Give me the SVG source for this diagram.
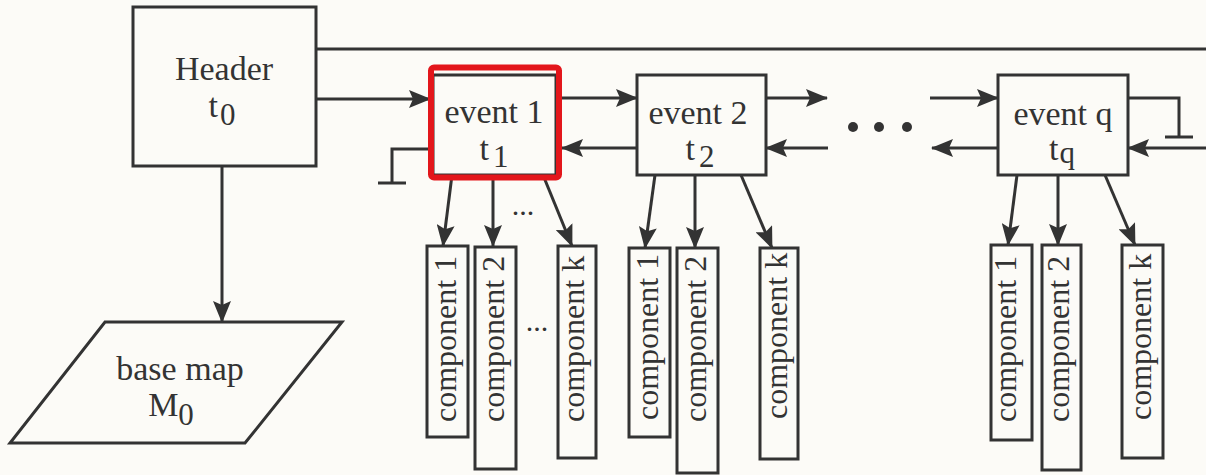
<svg xmlns="http://www.w3.org/2000/svg" width="1206" height="475" viewBox="0 0 1206 475">
  <defs>
    <marker id="arrow" viewBox="0 0 22 18" refX="21" refY="9" markerWidth="22" markerHeight="18" markerUnits="userSpaceOnUse" orient="auto">
      <path d="M0,0 L22,9 L0,18 L4,9 z" fill="#333"/>
    </marker>
    <style>
      .box { fill: none; stroke: #333; stroke-width: 3; }
      .line { fill: none; stroke: #333; stroke-width: 3; }
      .arr { fill: none; stroke: #333; stroke-width: 3; marker-end: url(#arrow); }
      .lbl { font-family: "Liberation Serif", "Times New Roman", serif; font-size: 34px; fill: #333; text-anchor: middle; }
      .comp { font-family: "Liberation Serif", "Times New Roman", serif; font-size: 32px; fill: #333; }
      .dots { font-family: "Liberation Serif", "Times New Roman", serif; font-size: 30px; fill: #333; text-anchor: middle; }
    </style>
  </defs>

  <rect x="0" y="0" width="1206" height="475" fill="#fcfbf7"/>

  <!-- links between records -->
  <g id="connectors">
    <line class="line" x1="316" y1="49" x2="1206" y2="49"/>
    <line class="arr" x1="316" y1="99" x2="430" y2="99"/>
    <line class="arr" x1="222" y1="166" x2="222" y2="322"/>

    <!-- event 1 back-link terminator -->
    <polyline class="line" points="431,149 392,149 392,183"/>
    <line class="line" x1="378" y1="183" x2="406" y2="183"/>

    <line class="arr" x1="556" y1="98" x2="637" y2="98"/>
    <line class="arr" x1="637" y1="148" x2="562" y2="148"/>
    <line class="arr" x1="766" y1="98" x2="827" y2="98"/>
    <line class="arr" x1="828" y1="148" x2="766" y2="148"/>

    <line class="arr" x1="930" y1="98" x2="998" y2="98"/>
    <line class="arr" x1="998" y1="148" x2="932" y2="148"/>

    <!-- event q forward-link terminator -->
    <polyline class="line" points="1128,98 1179,98 1179,137"/>
    <line class="line" x1="1165" y1="137" x2="1193" y2="137"/>
    <line class="arr" x1="1206" y1="148" x2="1128" y2="148"/>

    <!-- component links -->
    <line class="arr" x1="452" y1="175" x2="443" y2="246"/>
    <line class="arr" x1="493" y1="175" x2="493" y2="246"/>
    <line class="arr" x1="543" y1="175" x2="572" y2="246"/>

    <line class="arr" x1="655" y1="175" x2="645" y2="248"/>
    <line class="arr" x1="695" y1="175" x2="695" y2="248"/>
    <line class="arr" x1="741" y1="175" x2="772" y2="248"/>

    <line class="arr" x1="1017" y1="175" x2="1008" y2="245"/>
    <line class="arr" x1="1058" y1="175" x2="1058" y2="245"/>
    <line class="arr" x1="1105" y1="175" x2="1135" y2="245"/>
  </g>

  <g id="header">
    <rect class="box" x="133" y="7" width="183" height="159"/>
    <text class="lbl" x="224" y="80">Header</text>
    <text class="lbl" x="222" y="117">t<tspan dx="2" dy="8" font-size="31">0</tspan></text>
  </g>

  <g id="base-map">
    <polygon class="box" points="105,322 342,322 245,443 10,443"/>
    <text class="lbl" x="180" y="380">base map</text>
    <text class="lbl" x="171" y="416">M<tspan dy="9" font-size="31">0</tspan></text>
  </g>

  <g id="event-1">
    <rect class="box" x="433" y="75" width="123" height="100"/>
    <text class="lbl" x="494" y="123">event 1</text>
    <text class="lbl" x="494" y="160">t<tspan dx="4" dy="7" font-size="31">1</tspan></text>
  </g>

  <g id="event-2">
    <rect class="box" x="637" y="75" width="129" height="100"/>
    <text class="lbl" x="698" y="124">event 2</text>
    <text class="lbl" x="700" y="160">t<tspan dx="4" dy="7" font-size="31">2</tspan></text>
  </g>

  <g id="ellipsis">
    <circle cx="853" cy="127" r="5" fill="#333"/>
    <circle cx="879" cy="127" r="5" fill="#333"/>
    <circle cx="907" cy="127" r="5" fill="#333"/>
  </g>

  <g id="event-q">
    <rect class="box" x="998" y="75" width="130" height="100"/>
    <text class="lbl" x="1063" y="125">event q</text>
    <text class="lbl" x="1062" y="160">t<tspan dx="1" dy="3" font-size="31">q</tspan></text>
  </g>

  <!-- components of event 1 -->
  <g id="e1-component-1">
    <rect class="box" x="427" y="246" width="41" height="191"/>
    <text class="comp" transform="translate(456,422) rotate(-90)">component 1</text>
  </g>
  <g id="e1-component-2">
    <rect class="box" x="475" y="247" width="41" height="222"/>
    <text class="comp" transform="translate(504,422) rotate(-90)">component 2</text>
  </g>
  <g id="e1-component-k">
    <rect class="box" x="558" y="246" width="38" height="212"/>
    <text class="comp" transform="translate(584,422) rotate(-90)">component k</text>
  </g>
  <text class="dots" x="523" y="215">...</text>
  <text class="dots" x="537" y="331">...</text>

  <!-- components of event 2 -->
  <g id="e2-component-1">
    <rect class="box" x="629" y="248" width="41" height="189"/>
    <text class="comp" transform="translate(658,420) rotate(-90)">component 1</text>
  </g>
  <g id="e2-component-2">
    <rect class="box" x="677" y="248" width="41" height="225"/>
    <text class="comp" transform="translate(706,422) rotate(-90)">component 2</text>
  </g>
  <g id="e2-component-k">
    <rect class="box" x="760" y="248" width="38" height="211"/>
    <text class="comp" transform="translate(787,419) rotate(-90)">component k</text>
  </g>

  <!-- components of event q -->
  <g id="eq-component-1">
    <rect class="box" x="991" y="245" width="41" height="195"/>
    <text class="comp" transform="translate(1016,422) rotate(-90)">component 1</text>
  </g>
  <g id="eq-component-2">
    <rect class="box" x="1042" y="245" width="39" height="225"/>
    <text class="comp" transform="translate(1069,422) rotate(-90)">component 2</text>
  </g>
  <g id="eq-component-k">
    <rect class="box" x="1122" y="245" width="41" height="213"/>
    <text class="comp" transform="translate(1151,420) rotate(-90)">component k</text>
  </g>

  <!-- red outline around the first event -->
  <g id="highlight">
    <rect x="431" y="67.5" width="128" height="110" rx="3" fill="none" stroke="#e3161b" stroke-width="6"/>
  </g>
</svg>
